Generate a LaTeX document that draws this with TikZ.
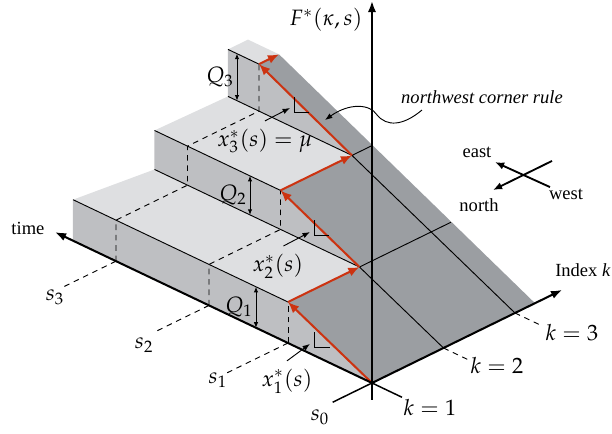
\documentclass[12pt,tikz,border=0pt]{standalone}
\usepackage{mathpazo}
\usepackage[no-math]{fontspec}
\setmainfont{Liberation Serif}
\usetikzlibrary{arrows.meta}

\definecolor{topgray}{RGB}{222,223,225}
\definecolor{frontgray}{RGB}{190,191,194}
\definecolor{cutgray}{RGB}{155,158,162}
\definecolor{pathred}{RGB}{204,51,17}

\begin{document}
\begin{tikzpicture}[x={(38.61pt,18.9pt)}, y={(-54pt,25.7pt)}, z={(0pt,54pt)},
  axis/.style={line width=1.1pt, -{Latex[length=6pt,width=4.5pt]}},
  edge/.style={line width=0.5pt},
  hidden/.style={line width=0.5pt, dash pattern=on 3pt off 2.6pt},
  nwpath/.style={pathred, line width=1.1pt, -{Latex[length=6pt,width=5pt]}},
  height/.style={line width=0.5pt, {Latex[length=3pt,width=2.4pt]}-{Latex[length=3pt,width=2.4pt]}},
  leader/.style={line width=0.5pt, -{Latex[length=4pt,width=3pt]}},
  compass/.style={line width=1pt, -{Latex[length=5pt,width=4pt]}},
  txt/.style={font=\footnotesize}]

  \useasboundingbox (-200.88pt,-27.54pt) rectangle (129.6pt,206.82pt);

  % corners of the path (k, s, F)
  \coordinate (P0) at (0,0,0);
  \coordinate (P1) at (0,0.84,0.41);
  \coordinate (P2) at (1,0.84,0.41);
  \coordinate (P3) at (1,1.63,0.80);
  \coordinate (P4) at (2,1.63,0.80);
  \coordinate (P5) at (2,2.56,1.27);
  \coordinate (P6) at (2.28,2.56,1.27);
  \coordinate (E)  at (2.28,0,0);

  % points on the axes
  \coordinate (s1) at (0,0.84,0);
  \coordinate (s2) at (0,1.63,0);
  \coordinate (s3) at (0,2.56,0);
  \coordinate (k2) at (1,0,0);
  \coordinate (k3) at (2,0,0);

  % cut face
  \fill[cutgray] (P0) -- (P1) -- (P2) -- (P3) -- (P4) -- (P5) -- (P6) -- (E) -- cycle;
  \draw[edge] (k2) -- (P2) -- (2.28,0.84,0.41);
  \draw[edge] (k3) -- (P4) -- (2.28,1.63,0.80);

  % front faces
  \fill[frontgray] (P0) -- (0,2.99,0) -- (0,2.99,0.41) -- (P1) -- cycle;
  \fill[frontgray] (P2) -- (1,2.89,0.41) -- (1,2.89,0.80) -- (P3) -- cycle;
  \fill[frontgray] (P4) -- (2,2.87,0.80) -- (2,2.87,1.27) -- (P5) -- cycle;

  % top faces
  \fill[topgray] (P1) -- (0,2.99,0.41) -- (1,2.89,0.41) -- (P2) -- cycle;
  \fill[topgray] (P3) -- (1,2.89,0.80) -- (2,2.87,0.80) -- (P4) -- cycle;
  \fill[topgray] (P5) -- (2,2.87,1.27) -- (2.28,2.87,1.27) -- (P6) -- cycle;

  % step edges
  \draw[edge] (P1) -- (0,2.99,0.41);
  \draw[edge] (P2) -- (1,2.89,0.41) (P3) -- (1,2.89,0.80);
  \draw[edge] (P4) -- (2,2.87,0.80) (P5) -- (2,2.87,1.27);

  % time points
  \draw[hidden] (s1) -- (P1);
  \draw[hidden] (s2) -- (0,1.63,0.41) -- (1,1.63,0.41) -- (P3);
  \draw[hidden] (s3) -- (0,2.56,0.41) -- (1,2.56,0.41) -- (1,2.56,0.80) -- (2,2.56,0.80) -- (P5);

  % ticks and their labels
  \coordinate (s0end) at (-0.55,0,0);
  \coordinate (s1end) at (-0.85,0.84,0);
  \coordinate (s2end) at (-0.77,1.63,0);
  \coordinate (s3end) at (-0.73,2.56,0);
  \coordinate (k1end) at (0,-0.3,0);
  \coordinate (k2end) at (1,-0.27,0);
  \coordinate (k3end) at (2,-0.26,0);
  \draw[line width=0.8pt] (P0) -- (s0end) (P0) -- (k1end);
  \draw[hidden] (s1) -- (s1end) (s2) -- (s2end) (s3) -- (s3end);
  \draw[hidden] (k2) -- (k2end) (k3) -- (k3end);
  \node (s0lab) at (-28.1pt,-18.4pt) {$s_0$};
  \node (s1lab) at (-83.2pt,1.6pt) {$s_1$};
  \node (s2lab) at (-123.1pt,20.5pt) {$s_2$};
  \node (s3lab) at (-171.2pt,46.4pt) {$s_3$};
  \node (k1lab) at (31.3pt,-13.5pt) {$k=1$};
  \node (k2lab) at (67.5pt,9.2pt) {$k=2$};
  \node (k3lab) at (108pt,27pt) {$k=3$};

  % northwest corner path
  \foreach \a/\b in {P0/P1, P1/P2, P2/P3, P3/P4, P4/P5, P5/P6}
    \draw[nwpath] (\a) -- (\b);

  % axes
  \draw[axis] (P0) -- (0,3.17,0);
  \draw[axis] (P0) -- (2.66,0,0);
  \draw[axis] (0,0,-0.17) -- (0,0,3.82);
  \node[anchor=east] (Flab) at (-1pt,196.3pt) {$F^{*}(\kappa,s)$};
  \node[txt] (timelab) at (-185.8pt,83.7pt) {time};
  \node[txt] (klab) at (113.9pt,61pt) {Index \textit{k}};

  % capacities
  \draw[height] (0,1.16,0) -- node[left, inner sep=1.5pt] (Q1lab) {$Q_1$} (0,1.16,0.41);
  \draw[height] (1,1.935,0.41) -- node[left, inner sep=1.5pt] (Q2lab) {$Q_2$} (1,1.935,0.80);
  \draw[height] (2,2.78,0.80) -- node[left, inner sep=1.5pt] (Q3lab) {$Q_3$} (2,2.78,1.27);

  % right angles
  \foreach \c in {(-30.8pt,19.4pt), (-31.3pt,79.9pt), (-42.1pt,146.3pt)}
    \draw[edge] \c ++(0,8.1pt) -- ++(0,-8.1pt) -- ++(8.1pt,0);

  % optimal amounts
  \node (x1lab) at (-45.9pt,1.1pt) {$x_1^{*}(s)$};
  \node (x2lab) at (-50.8pt,63.2pt) {$x_2^{*}(s)$};
  \node (x3lab) at (-57.8pt,130.7pt) {$x_3^{*}(s)=\mu$};
  \coordinate (x1tip) at (-33.5pt,21.1pt);
  \coordinate (x2tip) at (-33.5pt,81.5pt);
  \coordinate (x3tip) at (-44.3pt,148.5pt);
  \draw[leader] (x1lab.north) -- (x1tip);
  \draw[leader] ([xshift=3pt]x2lab.north) -- (x2tip);
  \draw[leader] (x3lab.north) -- (x3tip);

  % rule label
  \node[txt] (nwlab) at (59.4pt,154.4pt) {\textit{northwest corner rule}};
  \coordinate (nwstart) at (27pt,147.4pt);
  \coordinate (nwtip) at (-25.4pt,142pt);
  \draw[leader] (nwstart) .. controls (17pt,139pt) and (8pt,138pt) .. (2.5pt,145pt)
    .. controls (-1pt,150.5pt) and (-12pt,151.5pt) .. (nwtip);

  % compass
  \coordinate (westend) at (96.1pt,105.8pt);
  \coordinate (eastend) at (66.4pt,119.3pt);
  \coordinate (southend) at (97.2pt,119.9pt);
  \coordinate (northend) at (65.3pt,104.2pt);
  \draw[compass] (westend) -- (eastend);
  \draw[compass] (southend) -- (northend);
  \node[txt] (eastlab) at (56.7pt,124.7pt) {east};
  \node[txt] (northlab) at (57.8pt,96.1pt) {north};
  \node[txt] (westlab) at (104.8pt,102.1pt) {west};
\end{tikzpicture}
\end{document}
